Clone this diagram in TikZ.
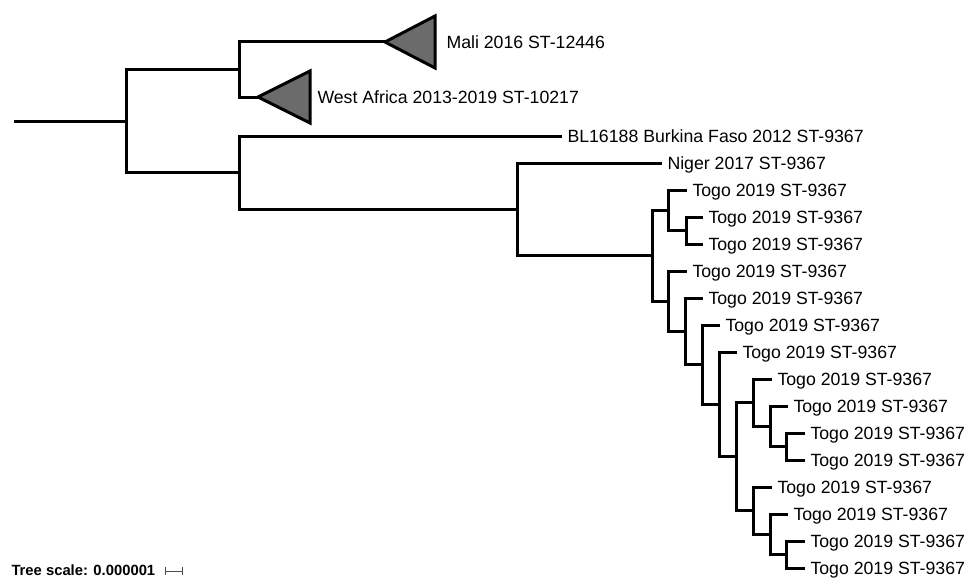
\documentclass[tikz,border=0pt]{standalone}
\usepackage{fontspec}
\setmainfont{Liberation Sans}
\usetikzlibrary{positioning}
\definecolor{cladegray}{HTML}{6B6B6B}

\begin{document}
\begin{tikzpicture}[x=1pt,y=-1pt,line width=3pt,node distance=4pt,
                    every edge/.style={draw,to path={|- (\tikztotarget)}}]
	  \tikzstyle{leaf}=[inner sep=0pt,font=\fontsize{17.7}{20}\selectfont,text height=12.7pt,text depth=0pt]
	  \tikzstyle{clade}=[draw=black,fill=cladegray,line join=miter]
	  \useasboundingbox (0,0) rectangle (968,578);

	  % inner nodes of the tree
	  \coordinate (start) at (14,121);
	  \coordinate (root) at (126,121);
	  \coordinate (up) at (239,69.5);
	  \coordinate (low) at (239,172.7);
	  \coordinate (B) at (517,209.4);
	  \coordinate (C) at (652,255.7);
	  \coordinate (D) at (668,210.3);
	  \coordinate (E) at (686,230.5);
	  \coordinate (F) at (668,301.2);
	  \coordinate (G) at (685,331.3);
	  \coordinate (H) at (702,364.6);
	  \coordinate (I) at (719,404.3);
	  \coordinate (J) at (736,456.6);
	  \coordinate (K) at (753,402.6);
	  \coordinate (L) at (770,426.3);
	  \coordinate (M) at (786,446.5);
	  \coordinate (N) at (753,510.6);
	  \coordinate (O) at (770,534.3);
	  \coordinate (P) at (786,554.5);

	  % tips
	  \coordinate (mali) at (385,42);
	  \coordinate (wa) at (258,97);
	  \coordinate (bl) at (562,136);
	  \coordinate (niger) at (662,163);
	  \coordinate (t1) at (687,190);
	  \coordinate (t2) at (703,217);
	  \coordinate (t3) at (703,244);
	  \coordinate (t4) at (687,271);
	  \coordinate (t5) at (703,298);
	  \coordinate (t6) at (720,325);
	  \coordinate (t7) at (737,352);
	  \coordinate (t8) at (772,379);
	  \coordinate (t9) at (788,406);
	  \coordinate (t10) at (805,433);
	  \coordinate (t11) at (805,460);
	  \coordinate (t12) at (772,487);
	  \coordinate (t13) at (788,514);
	  \coordinate (t14) at (805,541);
	  \coordinate (t15) at (805,568);

	  \draw (start) -- (root);
	  \path (root) edge (up) edge (low)
	  (up) edge (mali) edge (wa)
	  (low) edge (bl) edge (B)
	  (B) edge (niger) edge (C)
	  (C) edge (D) edge (F)
	  (D) edge (t1) edge (E)
	  (E) edge (t2) edge (t3)
	  (F) edge (t4) edge (G)
	  (G) edge (t5) edge (H)
	  (H) edge (t6) edge (I)
	  (I) edge (t7) edge (J)
	  (J) edge (K) edge (N)
	  (K) edge (t8) edge (L)
	  (L) edge (t9) edge (M)
	  (M) edge (t10) edge (t11)
	  (N) edge (t12) edge (O)
	  (O) edge (t13) edge (P)
	  (P) edge (t14) edge (t15);

	  % collapsed clades
	  \draw[clade] (mali) -- ++(50,-26) coordinate (maliR) -- ++(0,52) -- cycle;
	  \draw[clade] (wa) -- ++(52,-26) coordinate (waR) -- ++(0,52) -- cycle;
	  \coordinate (maliM) at (maliR |- mali);
	  \coordinate (waM) at (waR |- wa);

	  \node[leaf, right=10pt of maliM] (lmali) {Mali 2016 ST-12446};
	  \node[leaf, right=6pt of waM] (lwa) {West Africa 2013-2019 ST-10217};
	  \node[leaf, right=of bl] (lbl) {BL16188 Burkina Faso 2012 ST-9367};
	  \node[leaf, right=of niger] (lniger) {Niger 2017 ST-9367};
	  \foreach \i in {1,...,15}
	    \node[leaf, right=of t\i] (lt\i) {Togo 2019 ST-9367};

	  % scale
	  \node[inner sep=0pt, anchor=base west, font=\bfseries\fontsize{14.8}{16}\selectfont] (scale) at (10,575) {Tree scale: 0.000001};
	  \coordinate (sbl) at (165,571);
	  \coordinate (sbr) at (183,571);
	  \draw[|-|, line width=1pt, black!70] (sbl) -- (sbr);
\end{tikzpicture}
\end{document}
